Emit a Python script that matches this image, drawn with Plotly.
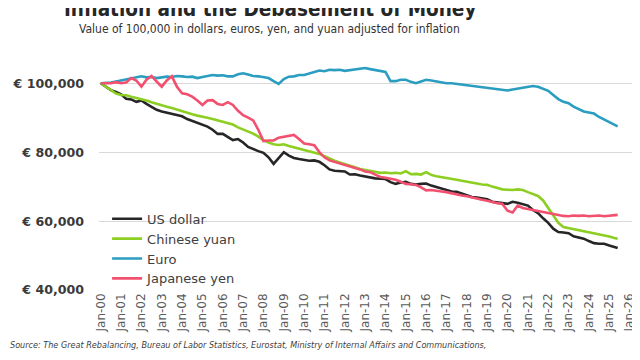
import plotly.graph_objects as go
import pandas as pd

# Quarterly observation dates (Jan-00 .. Apr-25) plus the last reading (Jun-25)
dates = list(pd.date_range("2000-01-01", "2025-04-01", freq="QS").strftime("%Y-%m-%d")) + ["2025-06-01"]

# Values in thousands (value of 100,000 adjusted for inflation)
us_dollar = [
    100.0, 99.0, 98.0, 97.5,
    96.8, 95.5, 95.3, 94.6,
    95.0, 94.0, 93.2, 92.3,
    91.8, 91.5, 91.2, 90.8,
    90.4, 89.6, 89.0, 88.5,
    88.0, 87.4, 86.5, 85.3,
    85.3, 84.5, 83.5, 83.8,
    82.8, 81.5, 80.8, 80.3,
    79.8, 78.5, 76.6, 78.3,
    80.0, 79.0, 78.3, 78.0,
    77.8, 77.5, 77.6, 77.2,
    76.2, 75.0, 74.6, 74.4,
    74.4, 73.5, 73.6, 73.2,
    72.9, 72.8, 72.4, 72.3,
    72.2, 71.3, 70.8, 71.2,
    71.4, 70.8, 70.6, 70.8,
    70.9, 70.3, 69.9, 69.6,
    69.1, 68.6, 68.5, 68.0,
    67.6, 67.0, 66.8, 66.5,
    66.3, 65.6, 65.5, 65.2,
    65.0, 65.6, 65.3, 65.0,
    64.5, 63.2, 62.3, 60.8,
    59.5, 57.8, 56.8, 56.7,
    56.5, 55.6, 55.2, 54.9,
    54.2, 53.6, 53.4, 53.4,
    52.9, 52.4, 52.2,
]

chinese_yuan = [
    100.0, 99.0, 98.0, 97.0,
    96.6, 96.5, 96.1, 95.8,
    95.5, 95.0, 94.5, 94.0,
    93.6, 93.2, 92.8, 92.3,
    91.8, 91.4, 91.0, 90.6,
    90.4, 90.0, 89.6, 89.2,
    89.0, 88.6, 88.0, 87.2,
    86.6, 86.0, 85.4, 84.5,
    83.5, 82.8, 82.3, 82.1,
    82.3, 81.8, 81.4, 80.9,
    80.7, 80.3, 79.9, 79.5,
    78.8, 78.1, 77.5, 77.0,
    76.6, 76.0, 75.6, 75.1,
    74.8, 74.5, 74.3, 74.0,
    74.1, 73.9, 74.0, 73.8,
    74.5, 73.6, 73.7, 73.5,
    74.2, 73.4, 73.0, 72.8,
    72.5, 72.3, 72.0, 71.7,
    71.5, 71.2, 70.9, 70.6,
    70.5, 70.0, 69.5, 69.2,
    69.1, 69.0, 69.2, 69.0,
    68.4, 67.9, 67.3, 66.0,
    63.8, 61.5, 59.5, 58.3,
    58.0, 57.7, 57.5, 57.2,
    56.9, 56.6, 56.3, 55.9,
    55.5, 55.1, 54.9,
]

euro = [
    100.0, 100.0, 100.2, 100.5,
    100.8, 101.0, 101.4, 101.6,
    102.0, 101.7, 101.8, 101.5,
    101.7, 101.9, 101.8, 102.1,
    102.0, 101.8, 101.9, 101.5,
    101.8, 102.0, 102.4, 102.2,
    102.3, 102.0, 102.0, 102.6,
    102.9, 102.5, 102.1, 102.0,
    101.8, 101.5, 100.6, 99.8,
    101.2, 101.9, 102.0, 102.4,
    102.4, 102.8, 103.3, 103.7,
    103.5, 103.9, 103.8, 103.9,
    103.6, 103.8, 104.0, 104.3,
    104.4, 104.1, 103.8, 103.4,
    103.3, 100.6, 100.6, 101.0,
    101.0, 100.4, 100.0, 100.5,
    101.0, 100.8, 100.5, 100.3,
    100.0, 100.0, 99.8, 99.6,
    99.4, 99.2, 99.0, 98.8,
    98.7, 98.4, 98.2, 98.0,
    97.9, 98.2, 98.5, 98.7,
    98.9, 99.2, 99.0, 98.4,
    97.8, 96.6, 95.4, 94.6,
    94.2, 93.2, 92.6, 91.8,
    91.5, 91.2, 90.2, 89.5,
    88.8, 88.0, 87.5,
]

japanese_yen = [
    100.0, 100.0, 100.0, 100.3,
    100.0, 100.2, 101.5, 100.8,
    99.0, 101.0, 102.1, 100.5,
    99.0, 100.8, 102.0, 99.0,
    97.1, 96.8, 96.1, 95.0,
    93.7, 95.0, 95.1, 94.0,
    93.7, 94.5, 93.7, 92.0,
    90.7, 90.0, 89.2, 86.5,
    83.2, 83.4, 83.4, 84.2,
    84.5, 84.9, 85.0, 83.8,
    82.5, 82.3, 82.0, 80.0,
    78.5, 77.6, 77.2, 76.6,
    76.4, 75.9, 75.6, 75.0,
    74.4, 74.2, 73.5, 72.8,
    72.6, 72.3, 72.0, 71.4,
    70.8, 70.7, 70.5, 69.8,
    68.9, 69.0, 68.7, 68.6,
    68.4, 68.0, 67.6, 67.4,
    67.2, 66.8, 66.4, 66.2,
    65.9, 65.5, 65.2, 65.0,
    63.0, 62.5, 64.5, 63.8,
    63.5, 63.2, 63.0, 62.8,
    62.5, 62.0, 61.8, 61.5,
    61.4, 61.6, 61.5, 61.6,
    61.4, 61.5, 61.6, 61.4,
    61.6, 61.7, 61.8,
]

series_names = ["US dollar", "Chinese yuan", "Euro", "Japanese yen"]
series_values = [us_dollar, chinese_yuan, euro, japanese_yen]
series_colors = ["#262626", "#8CCF22", "#2A9DC0", "#F2506E"]

y_ticks = [40000, 60000, 80000, 100000]
y_tick_labels = ["€ 40,000", "€ 60,000", "€ 80,000", "€ 100,000"]

fig = go.Figure()
for name, vals, col in zip(series_names, series_values, series_colors):
    fig.add_trace(go.Scatter(
        x=dates, y=[v * 1000 for v in vals], mode="lines", name=name,
        line=dict(color=col, width=2.6),
    ))

narrow = "Liberation Sans Narrow, DejaVu Sans Condensed, Roboto Condensed, Arial Narrow, sans-serif"

fig.update_layout(
    width=640, height=360,
    paper_bgcolor="white", plot_bgcolor="white",
    margin=dict(l=91, r=10, t=58, b=78, autoexpand=False),
    showlegend=True,
    legend=dict(
        x=0.015, y=0.385, xanchor="left", yanchor="top",
        bgcolor="rgba(0,0,0,0)", borderwidth=0, tracegroupgap=0,
        font=dict(family="DejaVu Sans, Verdana, sans-serif", size=13, color="#404040"),
    ),
    xaxis=dict(
        type="date", range=["1999-12-01", "2026-06-01"],
        tick0="2000-01-01", dtick="M12", tickformat="%b-%y", tickangle=-90,
        showgrid=False, showline=False, zeroline=False, ticks="",
        tickfont=dict(family="DejaVu Sans, Verdana, sans-serif", size=12, color="#595959"),
    ),
    yaxis=dict(
        range=[40000, 105000], tickvals=y_ticks, ticktext=y_tick_labels,
        showgrid=True, gridcolor="#D9D9D9", gridwidth=1, zeroline=False, showline=False,
        ticks="", ticklabelstandoff=14,
        tickfont=dict(family="DejaVu Sans, Verdana, sans-serif", size=12.6, color="#3A3A3A", weight="bold"),
    ),
    annotations=[
        dict(text="<b>Inflation and the Debasement of Money</b>", xref="paper", yref="paper",
             x=0.317, y=1.254, xanchor="center", yanchor="middle", showarrow=False,
             font=dict(family=narrow, size=20.5, color="#262626")),
        dict(text="Value of 100,000 in dollars, euros, yen, and yuan adjusted for inflation",
             xref="paper", yref="paper", x=0.317, y=1.166, xanchor="center", yanchor="middle",
             showarrow=False, font=dict(family=narrow, size=12, color="#333333")),
        dict(text="<i>Source: The Great Rebalancing, Bureau of Labor Statistics, Eurostat, Ministry of Internal Affairs and Communications,</i>",
             xref="paper", yref="paper", x=-0.168, y=-0.245, xanchor="left", yanchor="middle",
             showarrow=False, font=dict(family=narrow, size=9, color="#404040")),
    ],
)

fig.write_html("out.html")
